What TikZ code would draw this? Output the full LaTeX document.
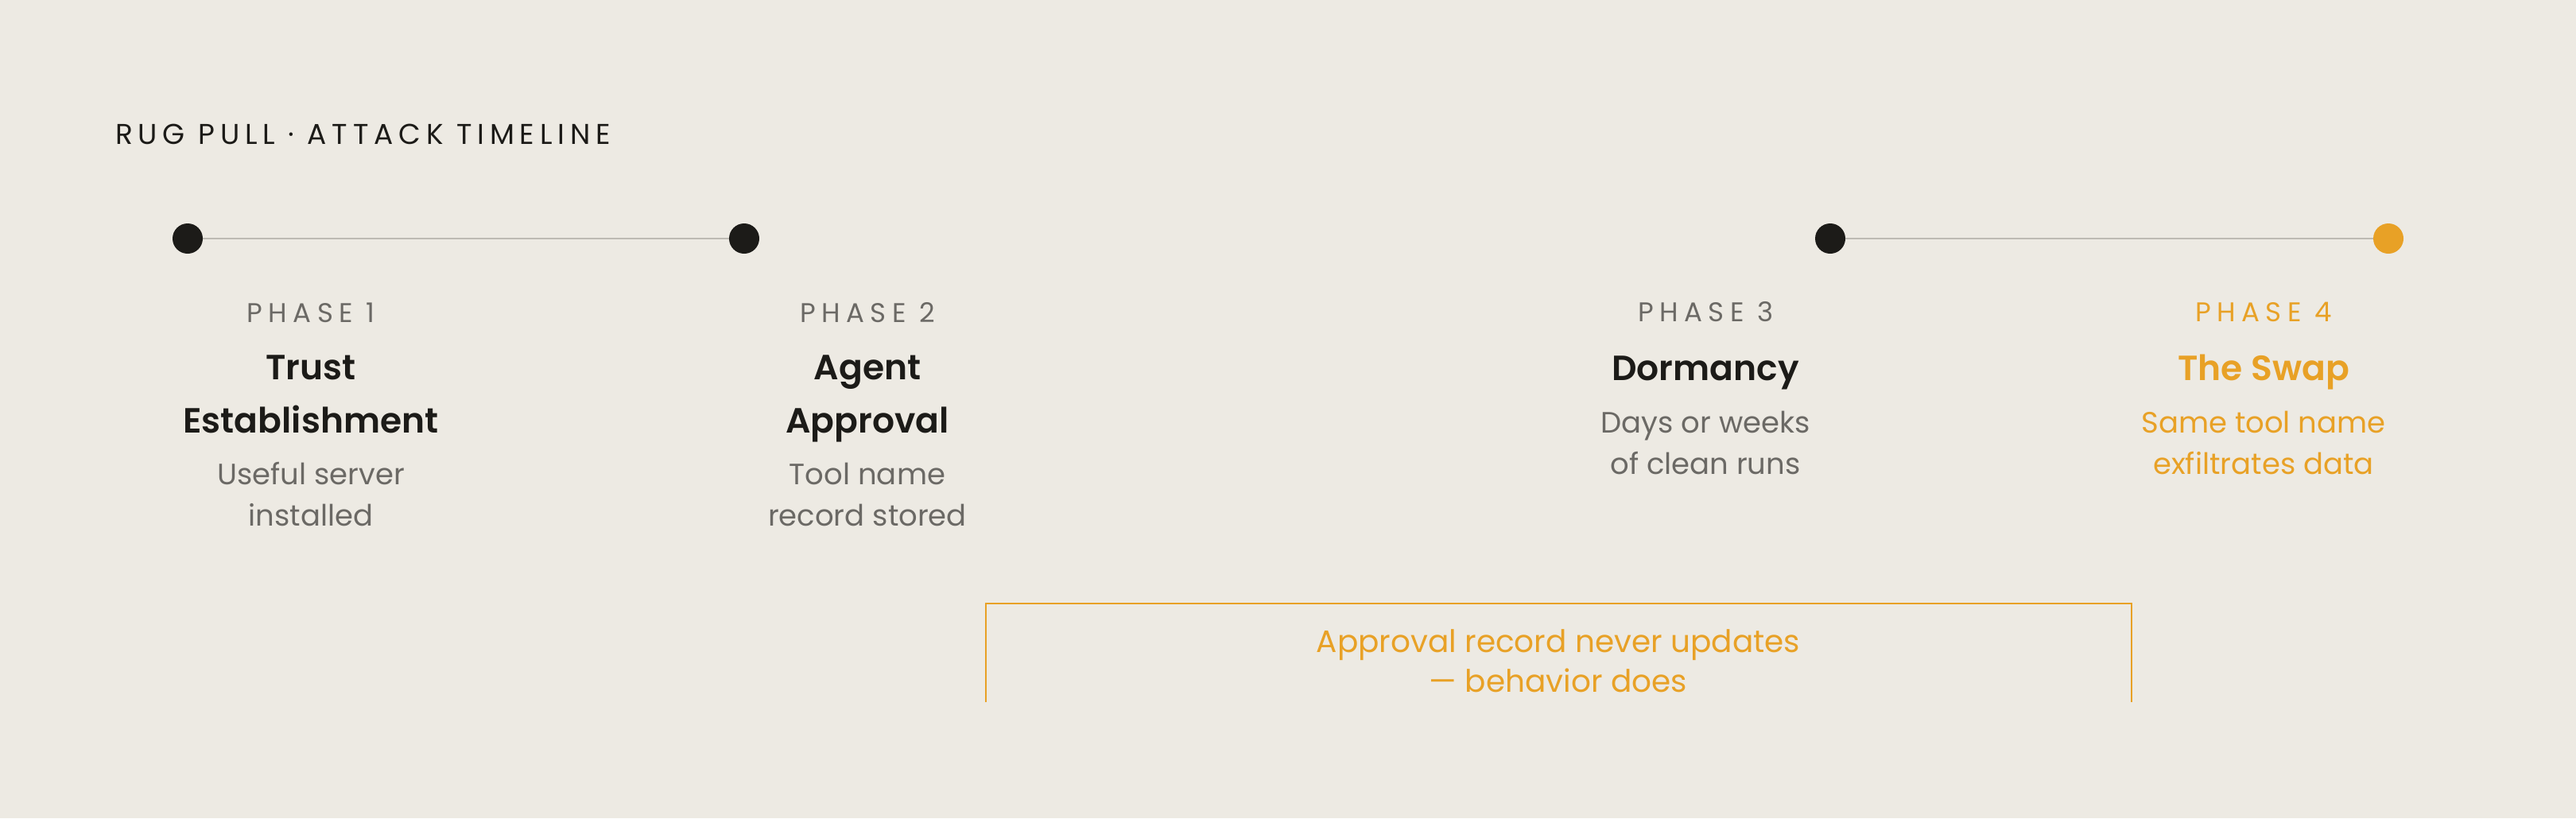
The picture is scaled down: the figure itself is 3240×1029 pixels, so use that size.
\documentclass[tikz,border=0pt]{standalone}
\usepackage{fontspec}
\setmainfont{Poppins}[BoldFont={Poppins SemiBold}]
\newfontfamily\titlefont[LetterSpace=19]{Poppins}
\newfontfamily\phasefont[LetterSpace=22]{Poppins}
\definecolor{paper}{HTML}{EDEAE3}
\definecolor{ink}{HTML}{1C1B18}
\definecolor{mute}{HTML}{6B6965}
\definecolor{amber}{HTML}{E8A126}
\definecolor{rail}{HTML}{BDBAB3}
\begin{document}
\begin{tikzpicture}[x=1pt, y=-1pt,
  every node/.style={inner sep=0pt, outer sep=0pt},
  dot/.style={circle, fill=ink, minimum size=38pt},
  phase/.style={anchor=base, text=mute, font=\phasefont\fontsize{34}{40}\selectfont},
  heading/.style={anchor=base, align=center, text=ink, font=\bfseries\fontsize{44}{67}\selectfont},
  blurb/.style={anchor=base, align=center, text=mute, font=\fontsize{37}{52}\selectfont}]
  %% background and size
  \fill[paper] (0,0) rectangle (3240,1029);
  %% title
  \node[anchor=base west, text=ink, font=\titlefont\fontsize{36}{40}\selectfont] (title) at (145,181) {RUG PULL · ATTACK TIMELINE};
  %% timeline dots
  \node[dot] (d1) at (236,300) {};
  \node[dot] (d2) at (936,300) {};
  \node[dot] (d3) at (2302,300) {};
  \node[dot, fill=amber] (d4) at (3004,300) {};
  \draw[rail, line width=2.5pt] (d1) -- (d2);
  \draw[rail, line width=2.5pt] (d3) -- (d4);
  %% multi-line nodes sit on the baseline of their last line
  % Phase 1
  \node[phase] (p1) at (391,405) {PHASE 1};
  \node[heading] (h1) at (391,544) {Trust\\Establishment};
  \node[blurb] (b1) at (391,661) {Useful server\\installed};
  % Phase 2
  \node[phase] (p2) at (1091,405) {PHASE 2};
  \node[heading] (h2) at (1091,544) {Agent\\Approval};
  \node[blurb] (b2) at (1091,661) {Tool name\\record stored};
  % Phase 3
  \node[phase] (p3) at (2145,404) {PHASE 3};
  \node[heading] (h3) at (2145,478) {Dormancy};
  \node[blurb] (b3) at (2145,596) {Days or weeks\\of clean runs};
  % Phase 4
  \node[phase, text=amber] (p4) at (2847,404) {PHASE 4};
  \node[heading, text=amber] (h4) at (2847,478) {The Swap};
  \node[blurb, text=amber] (b4) at (2847,596) {Same tool name\\exfiltrates data};
  %% open bracket under phases 2 to 4
  \draw[amber, line width=2.5pt] (1240,883) |- (2681,759) -- (2681,883);
  \node[blurb, text=amber, font=\fontsize{39}{50}\selectfont] (note) at (1960,870) {Approval record never updates\\— behavior does};
\end{tikzpicture}
\end{document}
